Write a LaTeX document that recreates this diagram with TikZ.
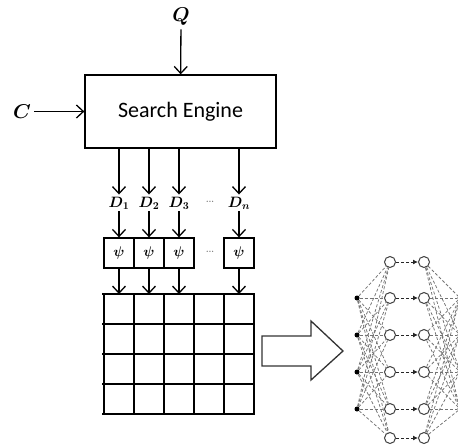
\documentclass[tikz,border=0pt]{standalone}
\usepackage{fix-cm}
\usepackage{amsmath}
\usepackage{fontspec}
\newfontfamily\carlito{Carlito}
\usetikzlibrary{arrows.meta,positioning}
\tikzset{
  flow/.style={-{Straight Barb[length=7pt,width=13pt]}, line width=1.3pt},
  psibox/.style={draw, line width=1.3pt, minimum width=30pt, minimum height=30pt, inner sep=0pt, font=\fontsize{14}{16}\selectfont},
  doclabel/.style={font=\fontsize{15}{17}\selectfont, inner sep=2pt},
  gap/.style={text=black!55, font=\fontsize{16}{18}\selectfont},
  hidden/.style={circle, draw=black!75, line width=1pt, fill=white, minimum size=11pt, inner sep=0pt},
  input/.style={circle, fill=black, minimum size=5pt, inner sep=0pt},
  wire/.style={densely dashed, black!55, line width=0.75pt},
  link/.style={densely dashed, black!85, line width=0.9pt, -{Latex[length=5pt,width=5pt]}},
}
\begin{document}
\begin{tikzpicture}[x=1pt,y=-1pt]
\useasboundingbox (0,0) rectangle (458,445);
% query, collection and engine
\node (q) at (181,17) {\fontsize{20}{23}\selectfont$\boldsymbol{Q}$};
\node[draw, line width=1.3pt, minimum width=191pt, minimum height=73pt, font=\carlito\fontsize{22}{26}\selectfont] (se) at (180.5,111.5) {Search Engine};
\node (c) at (22,111.5) {\fontsize{20}{23}\selectfont$\boldsymbol{C}$};
\draw[flow] (q) -- (se);
\draw[flow] (c) -- (se);
% retrieved documents
\node[doclabel] (d1) at (119,203) {$\boldsymbol{D_1}$};
\node[doclabel] (d2) at (149,203) {$\boldsymbol{D_2}$};
\node[doclabel] (d3) at (179,203) {$\boldsymbol{D_3}$};
\node[gap] (dd) at (210,202) {\dots};
\node[doclabel] (dn) at (239,203) {$\boldsymbol{D_n}$};
\draw[flow] (se.south -| d1) -- (d1);
\draw[flow] (se.south -| d2) -- (d2);
\draw[flow] (se.south -| d3) -- (d3);
\draw[flow] (se.south -| dn) -- (dn);
% feature maps
\node[psibox] (p1) at (119,253) {$\boldsymbol{\psi}$};
\node[psibox] (p2) at (149,253) {$\boldsymbol{\psi}$};
\node[psibox] (p3) at (179,253) {$\boldsymbol{\psi}$};
\node[gap] (pd) at (210,252) {\dots};
\node[psibox] (pn) at (239,253) {$\boldsymbol{\psi}$};
\draw[flow] (d1) -- (p1);
\draw[flow] (d2) -- (p2);
\draw[flow] (d3) -- (p3);
\draw[flow] (dn) -- (pn);
% feature matrix
\coordinate (gtop) at (104,294);
\foreach \y in {294,324,354,384,414}
  \draw[line width=1.3pt] (102,\y) -- (255,\y);
\foreach \x in {104,134,164,194,224,254}
  \draw[line width=1.3pt] (\x,294) -- (\x,415);
\draw[flow] (p1) -- (p1 |- gtop);
\draw[flow] (p2) -- (p2 |- gtop);
\draw[flow] (p3) -- (p3 |- gtop);
\draw[flow] (pn) -- (pn |- gtop);
% block arrow
\draw[line width=1.3pt, black!80, line join=miter]
  (262,336) -- (311,336) -- (311,321) -- (343,351) -- (311,380) -- (311,366) -- (262,366) -- cycle;
% network
\foreach \i/\y in {1/262,2/298,3/335,4/372,5/409,6/438} {
  \node[hidden] (a\i) at (390,\y) {};
  \node[hidden] (b\i) at (424,\y) {};
}
\foreach \j/\y in {1/298,2/335,3/372,4/409} {
  \node[input] (l\j) at (357,\y) {};
  \node[input] (r\j) at (460,\y) {};
}
\foreach \j in {1,...,4}
  \foreach \i in {1,...,6} {
    \draw[wire] (l\j) -- (a\i);
    \draw[wire] (b\i) -- (r\j);
  }
\foreach \i in {1,...,6}
  \draw[link] (a\i) -- (b\i);
\end{tikzpicture}
\end{document}
